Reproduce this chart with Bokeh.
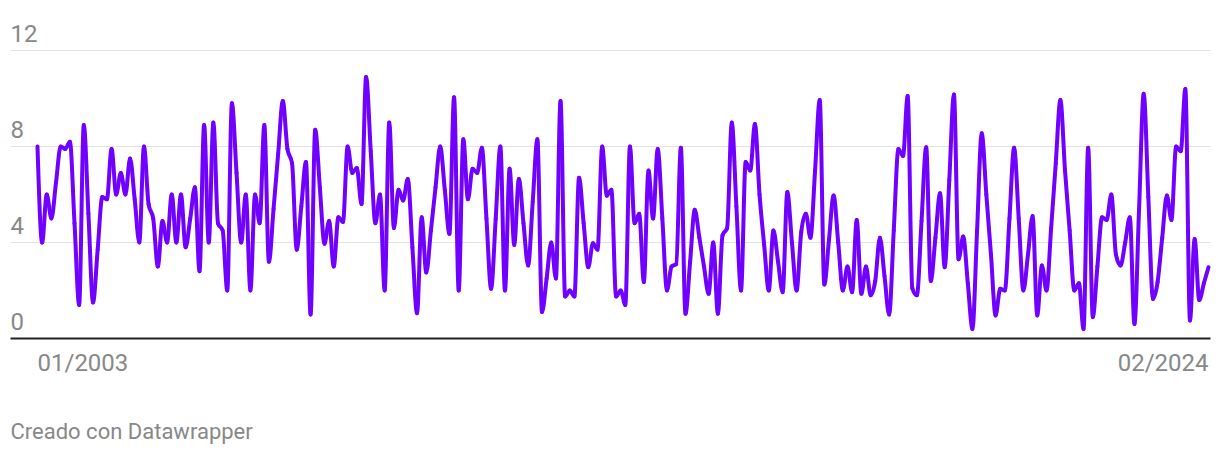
from bokeh.plotting import figure
from bokeh.models import Range1d, Label
from bokeh.embed import file_html
from bokeh.resources import INLINE
import numpy as np

# ---- data (monthly, 01/2003 .. 02/2024) ----
start_label = "01/2003"
end_label = "02/2024"
y_ticks = [0, 4, 8, 12]
values = [
    8, 4, 6, 5, 6.5, 8, 7.9, 8.2, 4.8, 1.4,            # 0-9
    8.9, 5.2, 1.5, 3.7, 5.9, 5.8, 7.9, 6.0, 6.9, 6.0,   # 10-19
    7.5, 5.8, 4.0, 8.0, 5.6, 5.0, 3.0, 4.9, 4.0, 6.0,   # 20-29
    4.0, 6.0, 3.8, 5.0, 6.3, 2.8, 8.9, 4.0, 9.0, 4.8,   # 30-39
    4.5, 2.0, 9.8, 6.9, 4.0, 6.0, 2.0, 6.0, 4.8, 8.9,   # 40-49
    3.2, 5.4, 7.7, 9.9, 7.9, 7.3, 3.7, 5.5, 7.35, 1.0,  # 50-59
    8.7, 6.3, 3.95, 4.9, 3.0, 5.05, 4.85, 8.0, 6.9, 7.1,  # 60-69
    5.6, 10.9, 7.8, 4.8, 6.0, 2.0, 9.0, 4.6, 6.2, 5.75,   # 70-79
    6.65, 3.8, 1.05, 5.05, 2.75, 4.5, 6.3, 8.0, 6.2, 4.36,  # 80-89
    10.05, 2.0, 8.3, 5.8, 7.07, 6.9, 7.95, 5.0, 2.07, 5.0,  # 90-99
    8.0, 2.0, 7.07, 3.9, 6.65, 4.8, 3.04, 5.7, 8.3, 1.1,    # 100-109
    2.5, 4.0, 2.5, 9.9, 1.75, 2.0, 1.75, 6.7, 4.8, 2.97,    # 110-119
    3.97, 3.7, 8.0, 5.95, 6.2, 1.75, 2.0, 1.4, 8.0, 4.8,    # 120-129
    5.2, 2.35, 7.0, 5.0, 7.9, 5.0, 2.0, 3.0, 3.1, 7.95,     # 130-139
    1.03, 3.2, 5.36, 4.2, 3.0, 1.86, 4.0, 1.03, 4.3, 4.6,   # 140-149
    9.0, 5.5, 2.0, 7.35, 7.0, 8.94, 6.0, 3.9, 2.0, 4.5,     # 150-159
    3.2, 1.93, 6.1, 4.0, 2.0, 4.43, 5.2, 4.2, 7.0, 9.94,    # 160-169
    2.25, 4.1, 5.96, 4.0, 2.0, 3.0, 1.93, 4.94, 1.86, 3.0,  # 170-179
    1.8, 2.4, 4.2, 2.6, 1.0, 4.5, 7.9, 7.6, 10.1, 2.1,      # 180-189
    1.8, 4.9, 7.97, 2.4, 4.2, 6.05, 2.97, 6.6, 10.17, 3.3,  # 190-199
    4.25, 2.3, 0.4, 4.5, 8.55, 6.0, 3.5, 0.96, 2.07, 2.0,   # 200-209
    5.0, 7.95, 5.0, 2.0, 3.5, 5.1, 0.96, 3.04, 2.0, 4.6,    # 210-219
    7.3, 9.94, 7.0, 4.5, 2.0, 2.3, 0.4, 7.95, 0.9, 3.0,     # 220-229
    5.05, 4.94, 6.0, 3.5, 3.04, 4.0, 5.05, 0.6, 5.4, 10.2,  # 230-239
    5.9, 1.65, 2.35, 4.2, 5.96, 4.94, 8.0, 7.8, 10.4, 0.75, # 240-249
    4.15, 1.6, 2.3, 2.97,                                   # 250-253
]

x = np.arange(len(values), dtype=float)
y = np.array(values, dtype=float)
n = len(y)

# monotone-x cubic (as used for "curved" lines) -> bezier segments
h = np.diff(x)
s = np.diff(y) / h
t = np.zeros(n)
for i in range(1, n - 1):
    s0, s1, h0, h1 = s[i - 1], s[i], h[i - 1], h[i]
    p_ = (s0 * h1 + s1 * h0) / (h0 + h1)
    t[i] = (np.sign(s0) + np.sign(s1)) * min(abs(s0), abs(s1), 0.5 * abs(p_))
t[0] = (3 * s[0] - t[1]) / 2
t[-1] = (3 * s[-1] - t[-2]) / 2
dx = h / 3.0
x0, y0 = x[:-1], y[:-1]
x1, y1 = x[1:], y[1:]
cx0, cy0 = x0 + dx, y0 + dx * t[:-1]
cx1, cy1 = x1 - dx, y1 - dx * t[1:]

# canvas pixel layout (canvas origin = picture origin)
W, H = 1216, 450
px_per_month = (1208 - 37) / (n - 1)
xs = -37 / px_per_month
xe = (n - 1) + (W - 1208) / px_per_month
ppu = 24.0
ys = -(H - 338) / ppu
ye = 338 / ppu

p = figure(width=W, height=H, output_backend="svg", toolbar_location=None,
           x_range=Range1d(xs, xe), y_range=Range1d(ys, ye),
           min_border=0, min_border_left=0, min_border_right=0,
           min_border_top=0, min_border_bottom=0)
p.axis.visible = False
p.grid.visible = False
p.outline_line_color = None
p.background_fill_color = "white"
p.border_fill_color = "white"

gx0 = (10 - 37) / px_per_month
gx1 = (1210 - 37) / px_per_month
font = "Roboto"
grey = "#888888"
for v in y_ticks:
    if v == 0:
        p.line([gx0, gx1], [v, v], line_color="#222222", line_width=2)
    else:
        p.line([gx0, gx1], [v, v], line_color="#e3e3e3", line_width=1)
    p.add_layout(Label(x=gx0, y=v + 17 / ppu, text=str(v), text_align="left",
                       text_baseline="alphabetic", text_font=font,
                       text_font_size="24px", text_color=grey))

p.bezier(x0=x0, y0=y0, x1=x1, y1=y1, cx0=cx0, cy0=cy0, cx1=cx1, cy1=cy1,
         line_color="#7000ff", line_width=4, line_cap="round")

p.add_layout(Label(x=0, y=-(372 - 10 - 338) / ppu, text=start_label, text_align="left",
                   text_baseline="alphabetic", text_font=font,
                   text_font_size="24px", text_color=grey))
p.add_layout(Label(x=n - 1, y=-(372 - 10 - 338) / ppu, text=end_label, text_align="right",
                   text_baseline="alphabetic", text_font=font,
                   text_font_size="24px", text_color=grey))
p.add_layout(Label(x=gx0, y=-(431 - 338) / ppu, text="Creado con Datawrapper",
                   text_align="left", text_baseline="alphabetic", text_font=font,
                   text_font_size="22px", text_color=grey))

open("out.html", "w").write(file_html(p, INLINE))
